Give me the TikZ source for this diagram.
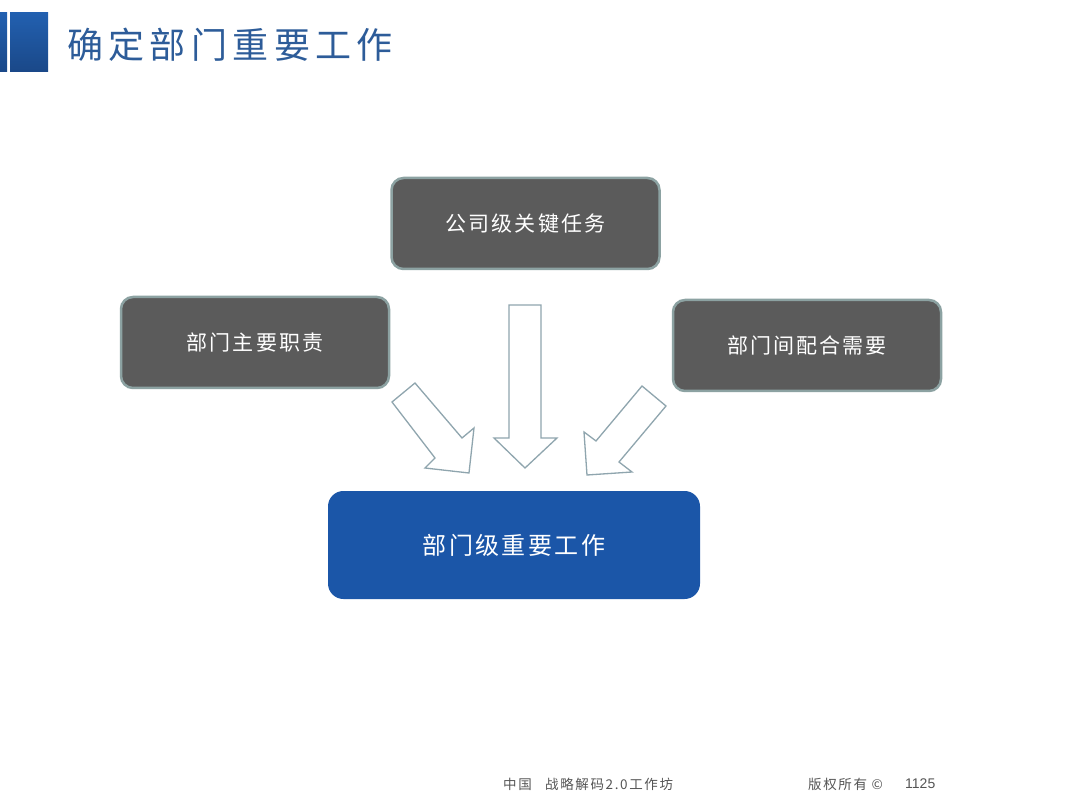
\documentclass[tikz,border=0pt]{standalone}
\usepackage{fontspec}
\setmainfont{Noto Sans CJK SC}
\newfontfamily\titlefont[LetterSpace=15]{Noto Sans CJK SC}
\newfontfamily\boxfont[LetterSpace=10]{Noto Sans CJK SC}
\newfontfamily\footfont[LetterSpace=12]{Noto Sans CJK SC}
\newfontfamily\numfont{Liberation Sans}
\definecolor{titleblue}{HTML}{2D5C99}
\definecolor{barblue}{HTML}{2260B0}
\definecolor{bardark}{HTML}{1A4888}
\definecolor{boxgray}{HTML}{5B5B5B}
\definecolor{boxedge}{HTML}{8CA2A2}
\definecolor{mainblue}{HTML}{1B56A8}
\definecolor{arrowedge}{HTML}{8FA5AE}
\definecolor{foot}{HTML}{555555}
\begin{document}
\begin{tikzpicture}[x=1pt,y=-1pt,
  graybox/.style={draw=boxedge, line width=2.5pt, fill=boxgray, rounded corners=12pt,
    minimum width=268pt, minimum height=91pt, inner sep=0pt, text=white,
    font=\boxfont\fontsize{21}{24}\selectfont},
  bluebox/.style={draw=mainblue, line width=1pt, fill=mainblue, rounded corners=15pt,
    minimum width=371pt, minimum height=107pt, inner sep=0pt, text=white,
    font=\boxfont\fontsize{24}{28}\selectfont},
  blockarrow/.style={draw=arrowedge, line width=1.3pt, fill=white, line join=miter},
  footer/.style={text=foot, inner sep=0pt, anchor=west, font=\footfont\fontsize{13.5}{15}\selectfont}]
\useasboundingbox (0,0) rectangle (1080,810);
\fill[white] (0,0) rectangle (1080,810);
% title bar
\shade[top color=barblue, bottom color=bardark] (0,13) rectangle (7,72);
\shade[top color=barblue, bottom color=bardark] (10,13) rectangle (48,72);
\node[anchor=west, inner sep=0pt, text=titleblue, font=\titlefont\fontsize{36}{40}\selectfont] (title) at (67,45) {确定部门重要工作};
% boxes
\node[graybox] (top) at (525.5,223.5) {公司级关键任务};
\node[graybox] (left) at (255,342.5) {部门主要职责};
\node[graybox] (right) at (807,345.5) {部门间配合需要};
\node[bluebox] (main) at (514,545) {部门级重要工作};
% block arrows
\draw[blockarrow] (509,305) -- (541,305) -- (541,438) -- (557,438) -- (525,468) -- (494,438) -- (509,438) -- cycle;
\draw[blockarrow] (392,402) -- (415,383) -- (462,438) -- (474,428) -- (469,473) -- (425,468) -- (435,458) -- cycle;
\draw[blockarrow] (666,406) -- (642,386) -- (596,441) -- (584,432) -- (587,475) -- (632,472) -- (619,462) -- cycle;
% footer
\node[footer] (f1) at (503,784) {中国};
\node[footer] (f2) at (545,784) {战略解码2.0工作坊};
\node[footer] (f3) at (808,784) {版权所有 ©};
\node[footer, font=\numfont\fontsize{14}{15}\selectfont] (f4) at (905,784) {1125};
\end{tikzpicture}
\end{document}
